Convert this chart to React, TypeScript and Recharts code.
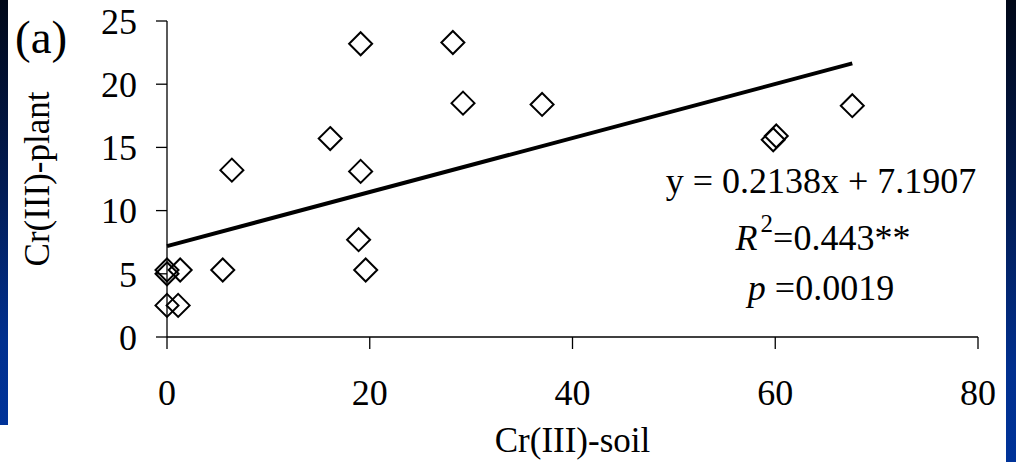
import { ComposedChart, Scatter, XAxis, YAxis } from 'recharts';

// Cr(III) in soil vs plant
const soilCr = [0, 0, 0, 1.1, 1.3, 5.5, 6.4, 16.1, 18.9, 19.1, 19.6, 19.1, 28.2, 29.2, 37.0, 59.8, 60.1, 67.6];
const plantCr = [5.3, 5.0, 2.5, 2.5, 5.3, 5.3, 13.2, 15.7, 7.7, 13.1, 5.3, 23.2, 23.3, 18.5, 18.4, 15.6, 15.9, 18.3];

const xTicks = [0, 20, 40, 60, 80];
const yTicks = [0, 5, 10, 15, 20, 25];

// regression printed on the chart
const slope = 0.2138;
const intercept = 7.1907;
const fitRange = [0, 67.6];

const points = soilCr.map((x, i) => ({ x, y: plantCr[i] }));
const fitLine = fitRange.map((x) => ({ x, y: slope * x + intercept }));

const FONT = '"Liberation Serif", "Times New Roman", serif';

function Diamond(props: any) {
  const { cx, cy } = props;
  const r = 11.5;
  return (
    <polygon
      points={`${cx},${cy - r} ${cx + r},${cy} ${cx},${cy + r} ${cx - r},${cy}`}
      fill="none"
      stroke="#000"
      strokeWidth={2}
    />
  );
}

const strip = 'linear-gradient(to bottom, #010818 0%, #021c55 45%, #01308f 80%, #003399 100%)';

export default function App() {
  return (
    <div style={{ position: 'absolute', left: 0, top: 0, width: 1016, height: 462, background: '#fff', overflow: 'hidden' }}>
      <div style={{ position: 'absolute', left: 0, top: 0, width: 8, height: 425, background: strip }} />
      <div style={{ position: 'absolute', left: 1006, top: 0, width: 10, height: 462, background: strip }} />
      <div style={{ position: 'absolute', left: 0, top: 0 }}>
        <ComposedChart width={1016} height={462} margin={{ top: 21, right: 38, bottom: 0, left: 0 }}>
          <XAxis
            type="number"
            dataKey="x"
            domain={[0, 80]}
            ticks={xTicks}
            tickSize={12}
            tickMargin={30}
            height={125}
            stroke="#000"
            strokeWidth={1.3}
            tick={{ fill: '#000', fontSize: 36, fontFamily: FONT }}
            label={{ value: 'Cr(III)-soil', position: 'insideBottom', offset: 10, fill: '#000', fontSize: 35, fontFamily: FONT }}
          />
          <YAxis
            type="number"
            dataKey="y"
            domain={[0, 25]}
            ticks={yTicks}
            tickSize={11}
            tickMargin={19}
            width={167}
            stroke="#000"
            strokeWidth={1.3}
            tick={{ fill: '#000', fontSize: 36, fontFamily: FONT }}
            label={{
              value: 'Cr(III)-plant',
              angle: -90,
              position: 'insideLeft',
              offset: 37,
              fill: '#000',
              fontSize: 35,
              fontFamily: FONT,
              style: { textAnchor: 'middle' },
            }}
          />
          <Scatter data={fitLine} line={{ stroke: '#000', strokeWidth: 4 }} shape={() => <g />} isAnimationActive={false} />
          <Scatter data={points} shape={Diamond} isAnimationActive={false} />
        </ComposedChart>
      </div>
      <svg width={1016} height={462} style={{ position: 'absolute', left: 0, top: 0, pointerEvents: 'none' }}>
        <g fontFamily={FONT} fill="#000">
          <text x={15} y={53} fontSize={47}>(a)</text>
          <text x={821} y={193} fontSize={36} textAnchor="middle">y = 0.2138x + 7.1907</text>
          <text x={823} y={250} fontSize={36} textAnchor="middle">
            <tspan fontStyle="italic">R</tspan>
            <tspan fontSize={25} dx={3} dy={-18}>2</tspan>
            <tspan dy={18}>=0.443**</tspan>
          </text>
          <text x={821} y={300} fontSize={36} textAnchor="middle">
            <tspan fontStyle="italic">p</tspan>
            <tspan> =0.0019</tspan>
          </text>
        </g>
      </svg>
    </div>
  );
}
